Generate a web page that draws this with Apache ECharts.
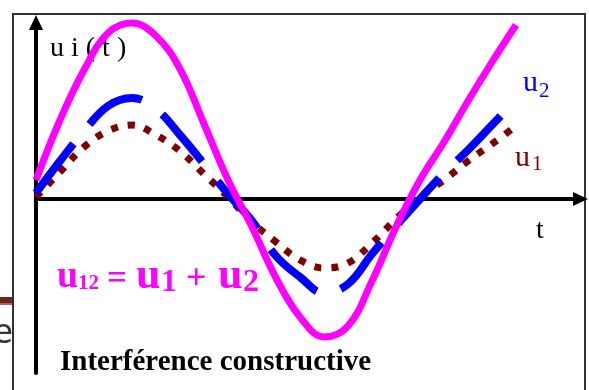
<!DOCTYPE html>
<html>
<head>
<meta charset="utf-8">
<script src="https://cdn.jsdelivr.net/npm/echarts@6/dist/echarts.min.js"></script>
<style>
  html, body { margin: 0; padding: 0; background: #fff; }
  #chart { width: 589px; height: 390px; }
</style>
</head>
<body>
<div id="chart"></div>
<script>
// temps (pas de 1/16 de période)
var t = [0, 1, 2, 3, 4, 5, 6, 7, 8, 9, 10, 11, 12, 13, 14, 15, 16, 17, 18, 19, 20];

// u1 (pointillés bordeaux)
var u1 = [2, 27, 52, 68, 74, 64, 48, 25, 2, -23, -43, -61, -69, -64, -44, -20, 2, 19, 38, 55, 73];
// u2 (tirets bleus)
var u2 = [6, 38, 68, 93, 101, 90, 64, 35, 5, -22, -57, -78, -94, -85, -55, -27, 0, 26, 49, 74, 99];
// u12 = u1 + u2 (trait plein magenta)
var u12 = [19, 79, 129, 166, 176, 163, 130, 75, 19, -28, -79, -118, -138, -127, -82, -28, 19, 57, 98, 137, 174];

function pairs(vals) {
    return vals.map(function (v, i) { return [t[i], v]; });
}

var serif = '"Liberation Serif", "Times New Roman", serif';

function txt(str, x, y, size, color, bold) {
    return {
        type: 'text',
        x: x,
        y: y,
        z: 1,
        style: {
            text: str,
            font: (bold ? 'bold ' : '') + size + 'px ' + serif,
            fill: color,
            align: 'left',
            verticalAlign: 'middle',
            textAlign: 'left',
            textVerticalAlign: 'middle'
        }
    };
}

var chart = echarts.init(document.getElementById('chart'));

var axisStyle = {
    show: true,
    onZero: true,
    symbol: ['none', 'triangle'],
    symbolSize: [14, 15],
    lineStyle: { color: '#000', width: 4 }
};

var option = {
    animation: false,
    backgroundColor: '#fff',
    grid: { left: 36, right: 8.5, top: 22.5, bottom: 17 },
    xAxis: {
        type: 'value',
        min: 0,
        max: 22.6875,
        axisLine: axisStyle,
        axisTick: { show: false },
        axisLabel: { show: false },
        splitLine: { show: false }
    },
    yAxis: {
        type: 'value',
        min: -174,
        max: 176.5,
        axisLine: axisStyle,
        axisTick: { show: false },
        axisLabel: { show: false },
        splitLine: { show: false }
    },
    graphic: [
        // morceaux de la diapo derrière
        { type: 'rect', z: 0, shape: { x: 0, y: 297, width: 13, height: 6 }, style: { fill: '#6b2626' } },
        { type: 'rect', z: 0, shape: { x: 0, y: 303, width: 13, height: 2 }, style: { fill: '#b06060' } },
        {
            type: 'text', x: 13, y: 334, z: 0,
            style: { text: 'e', font: '33px "DejaVu Sans", sans-serif', fill: '#333',
                align: 'right', verticalAlign: 'middle', textAlign: 'right', textVerticalAlign: 'middle' }
        },
        // cadre
        { type: 'rect', z: 0, shape: { x: 13, y: 14, width: 572, height: 400 }, style: { fill: null, stroke: '#333', lineWidth: 2 } },

        txt('u i ( t )', 50, 49, 28, '#000', false),
        txt('u', 523, 83, 30, '#0000ff', false),
        txt('2', 539, 91, 21, '#0000ff', false),
        txt('u', 515, 158, 30, '#800000', false),
        txt('1', 532, 164, 21, '#800000', false),
        txt('t', 536, 231, 28, '#000', false),

        txt('u', 57, 277, 38, '#ff00ff', true),
        txt('12', 78, 284, 21, '#ff00ff', true),
        txt('=', 107, 280, 35, '#ff00ff', true),
        txt('u', 136, 277, 44, '#ff00ff', true),
        txt('1', 161, 283, 32, '#ff00ff', true),
        txt('+', 186, 280, 36, '#ff00ff', true),
        txt('u', 218, 277, 44, '#ff00ff', true),
        txt('2', 243, 283, 32, '#ff00ff', true),

        txt('Interférence constructive', 60, 363, 29, '#000', true)
    ],
    series: [
        {
            name: 'u1',
            type: 'line',
            data: pairs(u1),
            smooth: 0.4,
            showSymbol: false,
            clip: false,
            lineStyle: { color: '#800000', width: 7, type: [7, 10], cap: 'butt' }
        },
        {
            name: 'u2',
            type: 'line',
            data: pairs(u2),
            smooth: 0.4,
            showSymbol: false,
            clip: false,
            lineStyle: { color: '#0000ff', width: 8, type: [62, 25], cap: 'butt' }
        },
        {
            name: 'u12',
            type: 'line',
            data: pairs(u12),
            smooth: 0.4,
            showSymbol: false,
            clip: false,
            lineStyle: { color: '#ff00ff', width: 7 }
        }
    ]
};

chart.setOption(option);
</script>
</body>
</html>
